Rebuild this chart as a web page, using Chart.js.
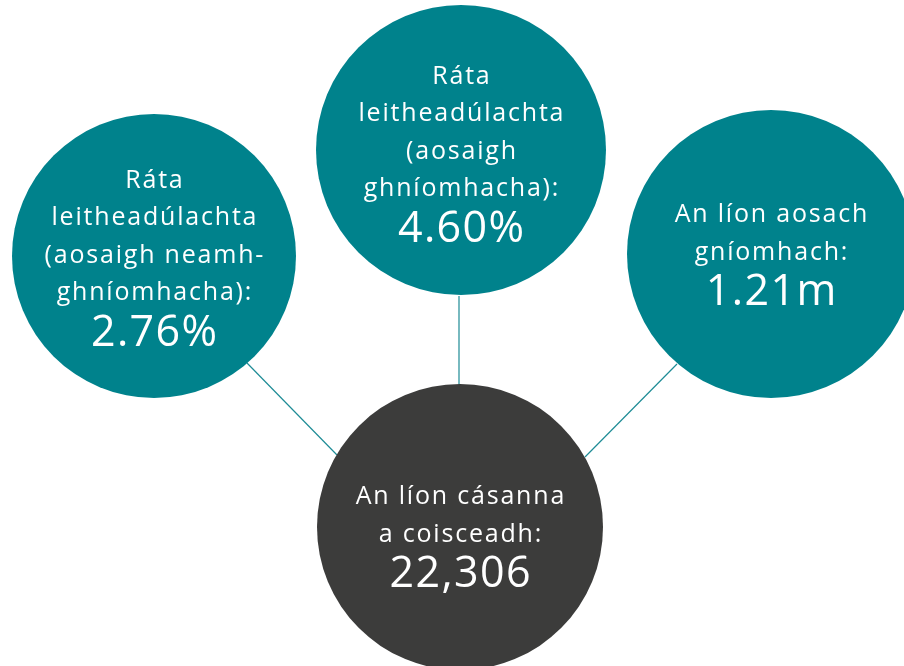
<!DOCTYPE html>
<html>
<head>
<meta charset="utf-8">
<script src="https://cdn.jsdelivr.net/npm/chart.js@4"></script>
<style>
  html, body { margin: 0; padding: 0; background: #ffffff; }
  #wrap { width: 904px; height: 666px; position: relative; }
</style>
</head>
<body>
<div id="wrap"><canvas id="c" width="904" height="666"></canvas></div>
<script>
// ---- Data (text content) ----
const nodeLabels = [
  ["Ráta", "leitheadúlachta", "(aosaigh neamh-", "ghníomhacha):"],
  ["Ráta", "leitheadúlachta", "(aosaigh", "ghníomhacha):"],
  ["An líon aosach", "gníomhach:"],
  ["An líon cásanna", "a coisceadh:"]
];
const nodeValues = ["2.76%", "4.60%", "1.21m", "22,306"];

// ---- Layout (positions in canvas units, sizes, styles) ----
const nodeX = [154, 461, 771, 460];
const nodeY = [256, 150, 254, 527];
const nodeR = [142, 145, 144, 143];
const nodeTextMid = [257, 153, 254, 536];
const nodeColors = ["#00828C", "#00828C", "#00828C", "#3C3C3B"];
const linkSegments = [
  [[247, 363], [337, 455]],
  [[459, 296], [459, 385]],
  [[677, 364], [585, 457]]
];

const TEAL_LINE = "#1E8C96";
const FONT = "'Open Sans', 'Noto Sans', sans-serif";
const SMALL = 25, BIG = 43, SMALL_GAP = 37.5, BIG_GAP = 40;
const SMALL_LS = 1.8, BIG_LS = 1.4;

const datasets = [];
nodeX.forEach((x, i) => {
  datasets.push({
    type: 'bubble',
    data: [{ x: x, y: nodeY[i], r: nodeR[i] }],
    backgroundColor: nodeColors[i],
    borderWidth: 0,
    hoverRadius: 0,
    hoverBorderWidth: 0,
    clip: false
  });
});
linkSegments.forEach(seg => {
  datasets.push({
    type: 'scatter',
    showLine: true,
    data: seg.map(p => ({ x: p[0], y: p[1] })),
    borderColor: TEAL_LINE,
    borderWidth: 1.2,
    pointRadius: 0,
    pointHoverRadius: 0,
    fill: false,
    clip: false
  });
});

const textPlugin = {
  id: 'nodeText',
  afterDatasetsDraw(chart) {
    const ctx = chart.ctx;
    const xs = chart.scales.x, ys = chart.scales.y;
    ctx.save();
    ctx.fillStyle = '#ffffff';
    ctx.textAlign = 'center';
    ctx.textBaseline = 'middle';
    nodeLabels.forEach((lines, i) => {
      const cx = xs.getPixelForValue(nodeX[i]);
      const total = (lines.length - 1) * SMALL_GAP + BIG_GAP;
      let y = ys.getPixelForValue(nodeTextMid[i]) - total / 2;
      ctx.font = SMALL + 'px ' + FONT;
      ctx.letterSpacing = SMALL_LS + 'px';
      lines.forEach(t => { ctx.fillText(t, cx + SMALL_LS / 2, y); y += SMALL_GAP; });
      y += BIG_GAP - SMALL_GAP;
      ctx.font = BIG + 'px ' + FONT;
      ctx.letterSpacing = BIG_LS + 'px';
      ctx.fillText(nodeValues[i], cx + BIG_LS / 2, y);
    });
    ctx.restore();
  }
};

new Chart(document.getElementById('c'), {
  type: 'bubble',
  data: { datasets: datasets },
  options: {
    responsive: false,
    animation: false,
    events: [],
    layout: { padding: 0, autoPadding: false },
    plugins: { legend: { display: false }, tooltip: { enabled: false } },
    scales: {
      x: { type: 'linear', min: 0, max: 904, display: false },
      y: { type: 'linear', min: 0, max: 666, reverse: true, display: false }
    }
  },
  plugins: [textPlugin]
});
</script>
</body>
</html>
